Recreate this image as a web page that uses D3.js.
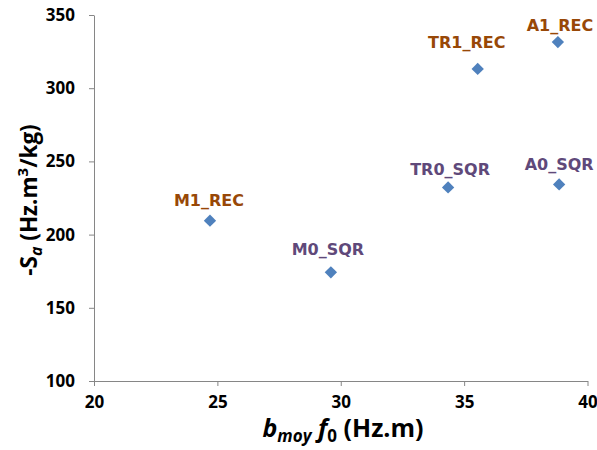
<!DOCTYPE html>
<html><head><meta charset="utf-8">
<script src="https://cdn.jsdelivr.net/npm/d3@7"></script>
<style>body{margin:0;background:#fff}</style>
</head><body>
<svg id="c" width="597" height="450"></svg>
<script>
const names = ["M1_REC","M0_SQR","TR0_SQR","TR1_REC","A0_SQR","A1_REC"];
const xVals = [24.7, 29.6, 34.35, 35.55, 38.85, 38.8];
const yVals = [209.5, 174.2, 232.2, 313.2, 234.3, 331.5];
const groups = ["REC","SQR","SQR","REC","SQR","REC"];
const xTicks = [20,25,30,35,40];
const yTicks = [100,150,200,250,300,350];

// label placement offsets (px) relative to the marker
const labelOffsets = [[-1,-20],[-3,-23],[2,-18],[-11,-26],[0,-20],[2,-17]];
const labelColors = {REC:"#984807", SQR:"#5F497A"};

const svg = d3.select("#c");
const x = d3.scaleLinear().domain([20,40]).range([94,587.5]);
const y = d3.scaleLinear().domain([100,350]).range([381,15]);
const axisColor = "#868686";
const tickFont = "'Open Sans', sans-serif";

const gx = svg.append("g").attr("transform","translate(0,381)")
  .call(d3.axisBottom(x).tickValues(xTicks).tickSize(5).tickSizeOuter(0).tickPadding(10));
const gy = svg.append("g").attr("transform","translate(94,0)")
  .call(d3.axisLeft(y).tickValues(yTicks).tickSize(5).tickSizeOuter(0).tickPadding(14));
[gx,gy].forEach(g=>{
  g.select(".domain").attr("stroke",axisColor);
  g.selectAll(".tick line").attr("stroke",axisColor);
  g.selectAll(".tick text").attr("fill","#000").style("font-family",tickFont)
   .style("font-weight","700").style("font-size","17px");
});

const sym = d3.symbol().type(d3.symbolSquare).size(76);
const idx = d3.range(names.length);
svg.append("g").selectAll("path").data(idx).join("path")
  .attr("d", sym)
  .attr("transform", i=>`translate(${x(xVals[i])},${y(yVals[i])}) rotate(45)`)
  .attr("fill","#4F81BD");

svg.append("g").selectAll("text").data(idx).join("text")
  .attr("x", i=>x(xVals[i])+labelOffsets[i][0])
  .attr("y", i=>y(yVals[i])+labelOffsets[i][1])
  .attr("text-anchor","middle").attr("dominant-baseline","central")
  .style("font-family","'DejaVu Sans', Verdana, sans-serif")
  .style("font-weight","700").style("font-size","16px")
  .attr("fill", i=>labelColors[groups[i]])
  .text(i=>names[i]);

// y axis title
const yt = svg.append("text")
  .attr("transform","translate(37,200) rotate(-90)")
  .attr("text-anchor","middle")
  .style("font-family",tickFont).style("font-weight","700").style("font-size","22.5px")
  .attr("fill","#000");
yt.append("tspan").text("-S");
yt.append("tspan").attr("font-style","italic").attr("font-size","16px").attr("dy","5").text("a");
yt.append("tspan").attr("dy","-5").text(" (Hz.m");
yt.append("tspan").attr("font-size","15px").attr("dy","-9").text("3");
yt.append("tspan").attr("dy","9").text("/kg)");

// x axis title
const xt = svg.append("text")
  .attr("x",343).attr("y",437).attr("text-anchor","middle")
  .style("font-family",tickFont).style("font-weight","700").style("font-size","25px")
  .attr("fill","#000");
xt.append("tspan").attr("font-style","italic").text("b");
xt.append("tspan").attr("font-style","italic").attr("font-size","17px").attr("dy","5").text("moy");
xt.append("tspan").attr("dy","-5").text(" ");
xt.append("tspan").attr("font-style","italic").text("f");
xt.append("tspan").attr("font-size","17px").attr("dy","5").text("0");
xt.append("tspan").attr("dy","-5").text(" (Hz.m)");
</script>
</body></html>
